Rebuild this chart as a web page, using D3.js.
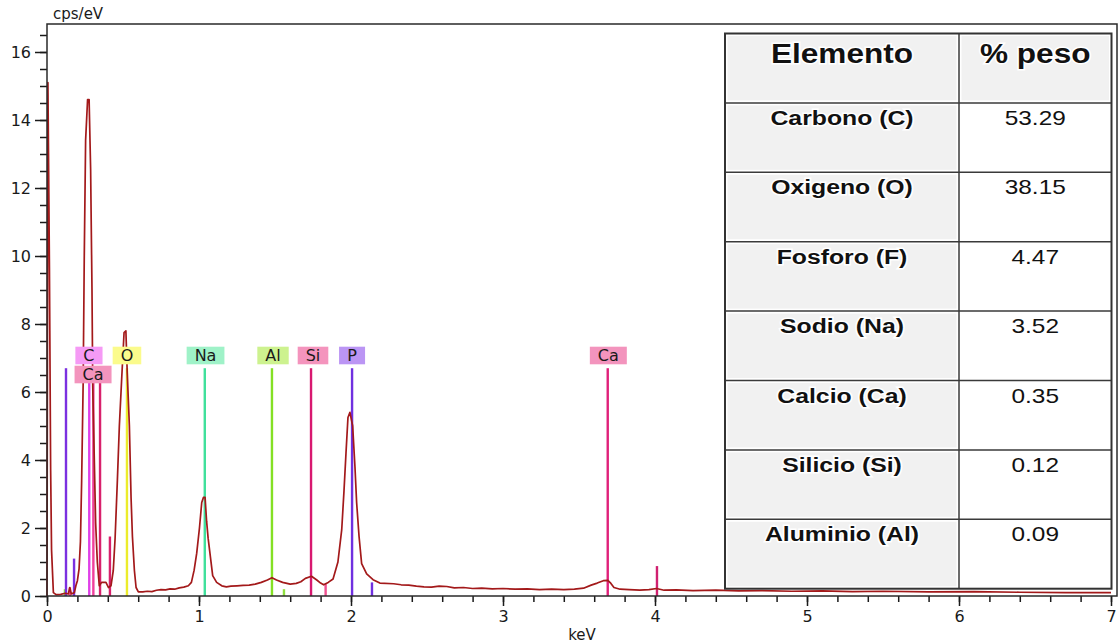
<!DOCTYPE html>
<html>
<head>
<meta charset="utf-8">
<script src="https://cdn.jsdelivr.net/npm/d3@7"></script>
<style>
body { margin: 0; background: #fff; }
svg { display: block; }
</style>
</head>
<body>
<svg id="chart" width="1120" height="643"></svg>
<script>
// EDS spectrum: [keV, cps/eV]
const spectrum = [
    [0.000, 0.0], [0.006, 15.1], [0.016, 9.65], [0.024, 3.7], [0.030, 1.35], [0.042, 0.1],
    [0.060, 0.04], [0.090, 0.05], [0.120, 0.08], [0.140, 0.06], [0.150, 0.25], [0.160, 0.06],
    [0.180, 0.1], [0.190, 0.3], [0.200, 0.45], [0.211, 0.8], [0.220, 1.6], [0.228, 3.4],
    [0.238, 6.3], [0.245, 9.9], [0.254, 13.4], [0.267, 14.6], [0.277, 14.6], [0.287, 12.55],
    [0.296, 9.0], [0.301, 6.15], [0.320, 2.15], [0.331, 1.0], [0.344, 0.3], [0.359, 0.4],
    [0.388, 0.4], [0.404, 0.25], [0.421, 0.3], [0.436, 0.75], [0.448, 1.7], [0.463, 3.4],
    [0.476, 5.0], [0.492, 6.45], [0.507, 7.75], [0.519, 7.8], [0.528, 6.55], [0.542, 5.0],
    [0.553, 2.9], [0.562, 1.75], [0.575, 0.75], [0.586, 0.25], [0.601, 0.12],
    [0.63, 0.12], [0.66, 0.14], [0.69, 0.13], [0.72, 0.17], [0.75, 0.19], [0.78, 0.18],
    [0.81, 0.21], [0.84, 0.2], [0.87, 0.24], [0.90, 0.26], [0.93, 0.3], [0.95, 0.4],
    [0.968, 0.76], [0.985, 1.26], [1.003, 2.0], [1.018, 2.75], [1.029, 2.9], [1.040, 2.9],
    [1.050, 2.2], [1.060, 1.7], [1.075, 1.15], [1.090, 0.6], [1.116, 0.4], [1.150, 0.3],
    [1.18, 0.27], [1.21, 0.29], [1.25, 0.3], [1.29, 0.31], [1.33, 0.32], [1.37, 0.35],
    [1.41, 0.4], [1.45, 0.47], [1.48, 0.54], [1.51, 0.47], [1.55, 0.4], [1.60, 0.35],
    [1.64, 0.37], [1.67, 0.42], [1.70, 0.52], [1.74, 0.58], [1.775, 0.47], [1.80, 0.38],
    [1.82, 0.33], [1.85, 0.4], [1.882, 0.5], [1.914, 1.0], [1.939, 1.95], [1.954, 3.1],
    [1.967, 4.2], [1.980, 5.25], [1.993, 5.4], [2.011, 5.0], [2.026, 3.8], [2.037, 2.75],
    [2.053, 1.75], [2.070, 0.95], [2.103, 0.65], [2.145, 0.48], [2.19, 0.38], [2.28, 0.36],
    [2.33, 0.33], [2.38, 0.32], [2.43, 0.29], [2.48, 0.27], [2.53, 0.26], [2.58, 0.29],
    [2.63, 0.28], [2.68, 0.24], [2.74, 0.25], [2.80, 0.22], [2.86, 0.23], [2.93, 0.21],
    [3.00, 0.22], [3.08, 0.2], [3.16, 0.21], [3.24, 0.19], [3.32, 0.2], [3.40, 0.19],
    [3.47, 0.2], [3.53, 0.23], [3.58, 0.32], [3.62, 0.38], [3.66, 0.45], [3.69, 0.46],
    [3.71, 0.37], [3.73, 0.25], [3.77, 0.2], [3.83, 0.19], [3.90, 0.17], [3.96, 0.19],
    [4.01, 0.22], [4.06, 0.17], [4.14, 0.18], [4.25, 0.16], [4.40, 0.17], [4.55, 0.15],
    [4.70, 0.16], [4.90, 0.14], [5.10, 0.15], [5.30, 0.13], [5.50, 0.14], [5.80, 0.12],
    [6.10, 0.13], [6.40, 0.11], [6.70, 0.1], [7.00, 0.1]
]

// element marker lines (keV, height in cps/eV, colour)
const markerKeV   = [0.118, 0.125, 0.151, 0.178, 0.278, 0.305, 0.349, 0.414, 0.526, 1.038, 1.480, 1.559, 1.737, 1.833, 2.007, 2.138, 3.689, 4.013]
const markerTop   = [0.2,   6.7,   0.25,  1.1,   6.7,   6.7,   6.7,   1.75,  6.7,   6.7,   6.7,   0.2,   6.7,   0.35,  6.7,   0.4,   6.7,   0.88]
const markerColor = ['#90e040', '#7b30e0', '#f05090', '#7b30e0', '#e040e8', '#f0409c', '#d8206c', '#d8206c', '#ecec2c',
                     '#40e09c', '#84e024', '#90e040', '#d81870', '#f05090', '#7030e0', '#7030e0', '#e0207a', '#d02070']

const labelNames = ['C', 'Ca', 'O', 'Na', 'Al', 'Si', 'P', 'Ca']
const labelKeV   = [0.276, 0.303, 0.526, 1.043, 1.487, 1.750, 2.007, 3.693]
const labelRow   = [0, 1, 0, 0, 0, 0, 0, 0]
const labelFill  = ['#f59af5', '#f394bd', '#fbfb8c', '#9ff2c8', '#cdf28f', '#f494bd', '#bb95f4', '#f394bd']

const tableHeader = ['Elemento', '% peso']
const elementos = ['Carbono (C)', 'Oxigeno (O)', 'Fosforo (F)', 'Sodio (Na)', 'Calcio (Ca)', 'Silicio (Si)', 'Aluminio (Al)']
const pesos = ['53.29', '38.15', '4.47', '3.52', '0.35', '0.12', '0.09']

const yMajor = d3.range(0, 17, 2)
const yMinor = d3.range(0, 34).map(i => i / 2)
const xMajor = d3.range(0, 8)
const xMinor = d3.range(0, 36).map(i => i / 5)

let plotLeft = 47
let plotRight = 1117
let plotTop = 24
let plotBottom = 596

const svg = d3.select('#chart')

const x = d3.scaleLinear().domain([0, 7]).range([47, 1111])
const y = d3.scaleLinear().domain([0, 16]).range([plotBottom, 52])

const axisFont = "'DejaVu Sans', Verdana, sans-serif"

// minor ticks first, then majors with labels
svg.append('g')
    .attr('transform', `translate(${plotLeft},0)`)
    .call(d3.axisLeft(y).tickValues(yMinor).tickSize(7).tickFormat(''))
    .call(g => g.select('.domain').remove())
svg.append('g')
    .attr('transform', `translate(${plotLeft},0)`)
    .call(d3.axisLeft(y).tickValues(yMajor).tickSize(12).tickPadding(4))
    .call(g => g.select('.domain').remove())

svg.append('g')
    .attr('transform', `translate(0,${plotBottom})`)
    .call(d3.axisBottom(x).tickValues(xMinor).tickSize(6).tickFormat(''))
    .call(g => g.select('.domain').remove())
svg.append('g')
    .attr('transform', `translate(0,${plotBottom})`)
    .call(d3.axisBottom(x).tickValues(xMajor).tickSize(10).tickPadding(5).tickFormat(d3.format('d')))
    .call(g => g.select('.domain').remove())

svg.selectAll('.tick line').attr('stroke', '#1a1a1a').attr('stroke-width', 1.5)
svg.selectAll('.tick text')
    .attr('fill', '#1a1a1a')
    .style('font-family', axisFont)
    .style('font-size', '16px')

// marker lines under the spectrum
svg.append('g').selectAll('line')
    .data(markerKeV)
    .join('line')
    .attr('x1', d => x(d))
    .attr('x2', d => x(d))
    .attr('y1', y(0))
    .attr('y2', (d, i) => y(markerTop[i]))
    .attr('stroke', (d, i) => markerColor[i])
    .attr('stroke-width', 2.4)

// the spectrum
svg.append('path')
    .datum(spectrum)
    .attr('fill', 'none')
    .attr('stroke', '#a3191a')
    .attr('stroke-width', 1.7)
    .attr('stroke-linejoin', 'round')
    .attr('d', d3.line().x(d => x(d[0])).y(d => y(d[1])))

// element labels
let labelG = svg.append('g')
    .style('font-family', axisFont)
    .style('font-size', '16px')

labelNames.forEach((name, i) => {
    let g = labelG.append('g')
    let cx = x(labelKeV[i])
    let t0 = labelRow[i] === 0 ? 346.7 : 365.7
    let rect = g.append('rect')
    let txt = g.append('text')
        .attr('x', cx)
        .attr('y', t0 + 14.5)
        .attr('text-anchor', 'middle')
        .attr('fill', '#1a1a1a')
        .text(name)
    let tw = txt.node().getComputedTextLength()
    let w = Math.max(26, tw + 16)
    rect.attr('x', cx - w / 2)
        .attr('y', t0)
        .attr('width', w)
        .attr('height', 17.6)
        .attr('fill', labelFill[i])
})

// plot frame
svg.append('rect')
    .attr('x', plotLeft)
    .attr('y', plotTop)
    .attr('width', plotRight - plotLeft)
    .attr('height', plotBottom - plotTop)
    .attr('fill', 'none')
    .attr('stroke', '#2a2a2a')
    .attr('stroke-width', 1.5)

// axis titles
svg.append('text')
    .attr('x', 53)
    .attr('y', 19)
    .attr('fill', '#1a1a1a')
    .style('font-family', axisFont)
    .style('font-size', '15px')
    .text('cps/eV')

svg.append('text')
    .attr('x', 582)
    .attr('y', 640)
    .attr('text-anchor', 'middle')
    .attr('fill', '#1a1a1a')
    .style('font-family', axisFont)
    .style('font-size', '15px')
    .text('keV')

// weight table
let tx0 = 725
let tx1 = 1111.5
let tcol = 959
let ty0 = 33.5
let rowH = 69.4
let nRows = elementos.length + 1
let tableFont = "'Liberation Sans', Arial, sans-serif"

let table = svg.append('g')

table.append('rect')
    .attr('x', tx0).attr('y', ty0)
    .attr('width', tx1 - tx0).attr('height', rowH * nRows)
    .attr('fill', '#fff')

for (let r = 0; r < nRows; r++) {
    let ry = ty0 + r * rowH
    table.append('rect')
        .attr('x', tx0 + 2.5).attr('y', ry + 2.5)
        .attr('width', tcol - tx0 - 5).attr('height', rowH - 5)
        .attr('fill', '#f1f1f1')
    if (r === 0)
        table.append('rect')
            .attr('x', tcol + 2.5).attr('y', ry + 2.5)
            .attr('width', tx1 - tcol - 5).attr('height', rowH - 5)
            .attr('fill', '#f1f1f1')
}

for (let r = 1; r < nRows; r++) {
    table.append('line')
        .attr('x1', tx0).attr('x2', tx1)
        .attr('y1', ty0 + r * rowH).attr('y2', ty0 + r * rowH)
        .attr('stroke', '#3a3a3a').attr('stroke-width', 1.5)
}
table.append('line')
    .attr('x1', tcol).attr('x2', tcol)
    .attr('y1', ty0).attr('y2', ty0 + nRows * rowH)
    .attr('stroke', '#3a3a3a').attr('stroke-width', 1.5)
table.append('rect')
    .attr('x', tx0).attr('y', ty0)
    .attr('width', tx1 - tx0).attr('height', rowH * nRows)
    .attr('fill', 'none')
    .attr('stroke', '#333').attr('stroke-width', 2)

function cellText(txt, cx, by, size, weight, sx) {
    table.append('text')
        .attr('transform', `translate(${cx},${by}) scale(${sx},1)`)
        .attr('text-anchor', 'middle')
        .attr('fill', '#111')
        .attr('stroke', '#fff')
        .attr('stroke-width', 3)
        .attr('paint-order', 'stroke')
        .style('font-family', tableFont)
        .style('font-size', size + 'px')
        .style('font-weight', weight)
        .text(txt)
}

let c1 = (tx0 + tcol) / 2
let c2 = (tcol + tx1) / 2

cellText(tableHeader[0], c1, ty0 + 29.5, 27, 'bold', 1.17)
cellText(tableHeader[1], c2, ty0 + 29.5, 27, 'bold', 1.17)

elementos.forEach((el, i) => {
    let ry = ty0 + (i + 1) * rowH
    cellText(el, c1, ry + 22, 21, 'bold', 1.18)
    cellText(pesos[i], c2, ry + 22, 20, 'normal', 1.22)
})
</script>
</body>
</html>
